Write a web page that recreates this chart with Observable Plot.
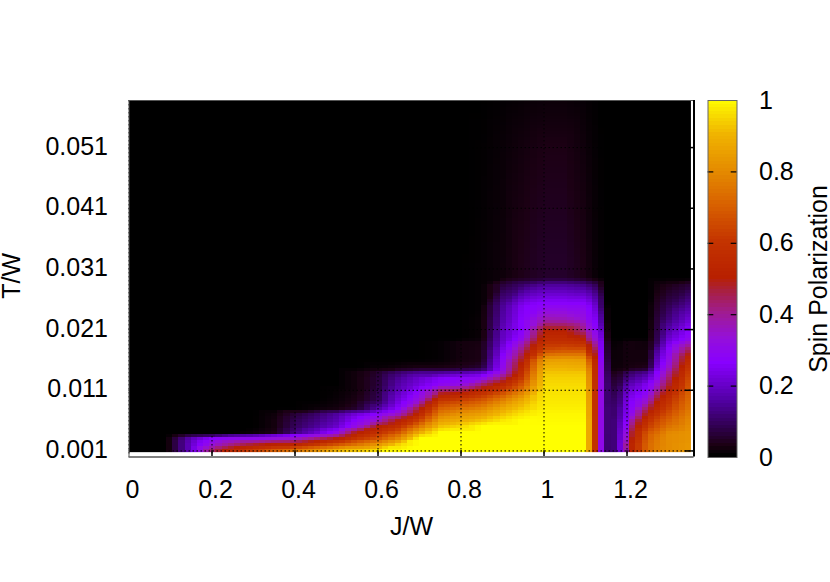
<!DOCTYPE html>
<html>
<head>
<meta charset="utf-8">
<script src="https://cdn.jsdelivr.net/npm/d3@7"></script>
<script src="https://cdn.jsdelivr.net/npm/@observablehq/plot@0.6"></script>
<style>
html,body{margin:0;padding:0;background:#fff}
#wrap{position:relative;width:830px;height:582px;overflow:hidden}
#wrap svg{position:absolute;top:0;background:transparent}
</style>
</head>
<body>
<div id="wrap"></div>
<script>
const xTicks = [0, 0.2, 0.4, 0.6, 0.8, 1, 1.2];
const yTicks = [0.001, 0.011, 0.021, 0.031, 0.041, 0.051];
const barTicks = [0, 0.2, 0.4, 0.6, 0.8, 1];

const paletteStops  = [0, 0.03, 0.08, 0.15, 0.26, 0.33, 0.40, 0.46, 0.50, 0.60, 0.70, 0.80, 0.90, 1];
const paletteColors = ["#000000","#1c0014","#300050","#5000a0","#8800ff","#9510d8","#a01c90","#a82040","#b82000","#c43400","#d86000","#e58c00","#f0b400","#ffff00"];

// T/W sampling rows (same order as every column below)
const T = [0.0008,0.002,0.003,0.0035,0.004,0.005,0.006,0.007,0.008,0.0093,0.011,0.012,0.013,0.014,0.0146,0.016,0.0175,0.019,0.0195,0.021,0.0225,0.025,0.0285,0.0295,0.051,0.0587];
// J/W sampling columns
const J = [0,0.09,0.1,0.15,0.2,0.25,0.3,0.35,0.4,0.45,0.5,0.55,0.6,0.65,0.7,0.75,0.8,0.85,0.9,0.95,1,1.05,1.1,1.11,1.125,1.135,1.145,1.155,1.17,1.19,1.2,1.215,1.25,1.275,1.3,1.354];
// Spin polarization, one list per J column
const P = [
[0,0,0,0,0,0,0,0,0,0,0,0,0,0,0,0,0,0,0,0,0,0,0,0,0,0],
[0,0,0,0,0,0,0,0,0,0,0,0,0,0,0,0,0,0,0,0,0,0,0,0,0,0],
[.03,.03,.03,.01,0,0,0,0,0,0,0,0,0,0,0,0,0,0,0,0,0,0,0,0,0,0],
[.2,.2,.18,.08,0,0,0,0,0,0,0,0,0,0,0,0,0,0,0,0,0,0,0,0,0,0],
[.45,.33,.27,.1,0,0,0,0,0,0,0,0,0,0,0,0,0,0,0,0,0,0,0,0,0,0],
[.58,.42,.3,.15,0,0,0,0,0,0,0,0,0,0,0,0,0,0,0,0,0,0,0,0,0,0],
[.66,.48,.3,.17,.01,0,0,0,0,0,0,0,0,0,0,0,0,0,0,0,0,0,0,0,0,0],
[.74,.52,.33,.22,.03,.02,.02,.015,0,0,0,0,0,0,0,0,0,0,0,0,0,0,0,0,0,0],
[.8,.53,.35,.27,.12,.09,.08,.06,0,0,0,0,0,0,0,0,0,0,0,0,0,0,0,0,0,0],
[.86,.6,.42,.32,.2,.14,.12,.1,.01,0,0,0,0,0,0,0,0,0,0,0,0,0,0,0,0,0],
[.95,.67,.5,.4,.3,.2,.17,.15,.02,.01,.005,0,0,0,0,0,0,0,0,0,0,0,0,0,0,0],
[.97,.75,.6,.55,.5,.32,.27,.22,.05,.03,.02,.02,.02,.02,0,0,0,0,0,0,0,0,0,0,0,0],
[1,.83,.67,.63,.58,.5,.35,.27,.15,.08,.07,.06,.06,.05,.01,0,0,0,0,0,0,0,0,0,0,0],
[1,.95,.8,.75,.68,.58,.5,.36,.27,.22,.18,.16,.14,.1,.02,0,0,0,0,0,0,0,0,0,0,0],
[1,1,1,.95,.88,.75,.63,.54,.47,.33,.27,.22,.2,.13,.03,0,0,0,0,0,0,0,0,0,0,0],
[1,1,1,1,1,.92,.85,.77,.7,.6,.42,.28,.25,.13,.03,.005,.005,.005,0,0,0,0,0,0,0,0],
[1,1,1,1,1,.95,.88,.82,.74,.63,.45,.3,.27,.15,.04,.02,.02,.02,0,0,0,0,0,0,0,0],
[1,1,1,1,1,1,.92,.85,.78,.68,.53,.42,.29,.18,.06,.03,.03,.025,.01,.01,.01,.005,.005,.005,.002,0],
[1,1,1,1,1,1,.97,.92,.87,.78,.62,.53,.43,.33,.3,.28,.24,.2,.19,.18,.16,.14,.06,.015,.01,.004],
[1,1,1,1,1,1,1,.97,.93,.88,.75,.68,.62,.58,.55,.5,.43,.35,.3,.27,.27,.25,.1,.035,.02,.008],
[1,1,1,1,1,1,.995,.99,.98,.97,.96,.95,.94,.92,.9,.84,.66,.58,.55,.5,.38,.28,.14,.05,.03,.012],
[1,1,1,1,1,1,.995,.99,.98,.97,.96,.95,.94,.92,.9,.85,.68,.58,.55,.5,.37,.28,.14,.05,.03,.012],
[1,1,1,1,1,1,.995,.99,.98,.97,.96,.95,.94,.92,.89,.84,.68,.56,.5,.4,.33,.28,.12,.03,.015,.006],
[.85,.85,.85,.85,.85,.85,.85,.84,.84,.83,.82,.8,.79,.77,.75,.67,.52,.44,.38,.33,.28,.25,.1,.02,.01,.004],
[.55,.55,.55,.55,.55,.55,.55,.55,.55,.55,.55,.55,.55,.54,.54,.52,.45,.36,.32,.28,.25,.2,.08,.01,.005,.002],
[.33,.33,.33,.33,.33,.33,.33,.33,.33,.33,.33,.33,.33,.33,.33,.3,.28,.27,.26,.24,.2,.14,.05,.005,.002,0],
[.23,.24,.24,.24,.25,.25,.25,.25,.25,.26,.26,.26,.26,.25,.25,.22,.2,.18,.15,.1,.05,.02,0,0,0,0],
[.08,.08,.08,.08,.08,.08,.08,.08,.08,.07,.07,.07,.06,.05,.04,.03,.02,.01,0,0,0,0,0,0,0,0],
[.12,.12,.12,.12,.12,.12,.12,.11,.11,.1,.08,.06,.05,.03,.01,.01,.01,.005,0,0,0,0,0,0,0,0],
[.27,.27,.25,.25,.24,.22,.2,.18,.17,.14,.12,.09,.07,.05,.02,.015,.015,.01,0,0,0,0,0,0,0,0],
[.38,.42,.36,.35,.33,.3,.27,.25,.24,.23,.2,.16,.12,.08,.02,.02,.02,.02,0,0,0,0,0,0,0,0],
[.55,.55,.52,.5,.5,.45,.4,.32,.28,.26,.22,.18,.14,.1,.03,.02,.02,.02,0,0,0,0,0,0,0,0],
[.72,.72,.7,.7,.68,.62,.58,.52,.45,.35,.27,.25,.19,.13,.04,.02,.02,.015,0,0,0,0,0,0,0,0],
[.78,.77,.76,.75,.73,.68,.65,.6,.55,.5,.4,.35,.3,.27,.24,.2,.16,.1,.09,.08,.07,.05,.02,0,0,0],
[.8,.8,.8,.8,.79,.74,.7,.66,.62,.58,.5,.46,.42,.38,.34,.3,.27,.22,.2,.16,.12,.08,.03,0,0,0],
[.83,.83,.82,.82,.82,.81,.8,.78,.76,.74,.71,.69,.67,.65,.63,.58,.47,.35,.3,.27,.22,.15,.06,0,0,0]
];
const barLevels = d3.range(0, 1, 0.01);

const points = [];
J.forEach((j, c) => T.forEach((t, r) => points.push({J: j, T: t, P: P[c][r]})));

const font = "'Liberation Sans', Arial, sans-serif";
const colorScale = {type: "linear", domain: paletteStops, range: paletteColors, interpolate: "rgb", clamp: true};
const dots = {stroke: "#000", strokeWidth: 1, strokeDasharray: "1.5,2.5"};

const main = Plot.plot({
  width: 830, height: 582,
  marginLeft: 128.5, marginRight: 136.5, marginTop: 100, marginBottom: 125.5,
  style: {fontFamily: font, fontSize: "25px", background: "transparent", color: "#000"},
  x: {domain: [0, 1.3614]},
  y: {domain: [0, 0.05876]},
  color: colorScale,
  marks: [
    Plot.raster(points, {
      x: "J", y: "T", fill: "P",
      x1: 0, x2: 1.354, y1: 0.0008, y2: 0.05876,
      width: 91, height: 117,
      interpolate: "barycentric", imageRendering: "pixelated"
    }),
    Plot.gridX(xTicks, {...dots, strokeOpacity: 1}),
    Plot.gridY(yTicks, {...dots, strokeOpacity: 1}),
    Plot.ruleX(xTicks.slice(1), {y1: 0, y2: 0.00105, stroke: "#000", strokeWidth: 1.5}),
    Plot.ruleY(yTicks, {x1: 1.34, x2: 1.3614, stroke: "#000", strokeWidth: 1.5}),
    Plot.ruleY([0], {stroke: "#808080", strokeWidth: 2}),
    Plot.ruleY([0.05876], {stroke: "#555", strokeWidth: 1}),
    Plot.ruleX([0], {stroke: "#555", strokeWidth: 1}),
    Plot.ruleX([1.3614], {stroke: "#000", strokeWidth: 2}),
    Plot.axisX(xTicks, {
      tickSize: 0, tickPadding: 23, dx: 3.5, fontSize: 25,
      tickFormat: d => String(d),
      label: "J/W", labelAnchor: "center", labelArrow: "none", labelOffset: 78
    }),
    Plot.axisY(yTicks, {
      tickSize: 0, tickPadding: 21, dy: -1, fontSize: 25,
      tickFormat: d => String(d),
      label: null
    }),
    Plot.text(["T/W"], {
      frameAnchor: "left", rotate: -90, dx: -117.5, dy: -3,
      fontSize: 25, fill: "#000", textAnchor: "middle"
    })
  ]
});
main.style.left = "0px";

const bar = Plot.plot({
  width: 140, height: 582,
  marginLeft: 17.5, marginRight: 93.5, marginTop: 100, marginBottom: 125,
  style: {fontFamily: font, fontSize: "25px", background: "transparent", color: "#000"},
  x: {domain: [0, 1], axis: null},
  y: {domain: [0, 1]},
  color: colorScale,
  marks: [
    Plot.rect(barLevels, {x1: 0, x2: 1, y1: d => d, y2: d => d + 0.01, fill: d => d, shapeRendering: "crispEdges"}),
    Plot.ruleY(barTicks.slice(1, -1), {x1: 0, x2: 0.2, stroke: "#000", strokeWidth: 1.2}),
    Plot.ruleY(barTicks.slice(1, -1), {x1: 0.8, x2: 1, stroke: "#000", strokeWidth: 1.2}),
    Plot.frame({stroke: "#666", strokeWidth: 1}),
    Plot.axisY(barTicks, {
      anchor: "right", tickSize: 0, tickPadding: 22, fontSize: 25,
      tickFormat: d => String(d),
      label: "Spin Polarization", labelAnchor: "center", labelArrow: "none", labelOffset: 90
    })
  ]
});
bar.style.left = "690px";

const wrap = document.getElementById("wrap");
wrap.appendChild(main);
wrap.appendChild(bar);
</script>
</body>
</html>
